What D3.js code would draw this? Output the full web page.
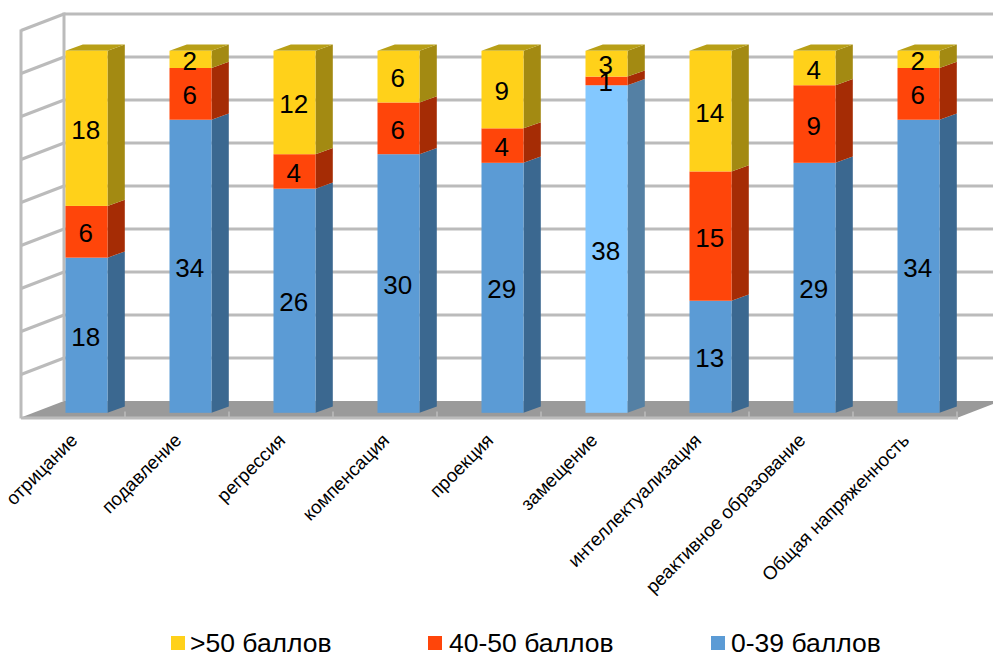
<!DOCTYPE html>
<html lang="ru">
<head>
<meta charset="utf-8">
<script src="https://cdn.jsdelivr.net/npm/d3@7"></script>
<style>
  html, body { margin: 0; padding: 0; background: #fff; overflow: hidden; }
  svg { display: block; font-family: "Liberation Sans", Arial, sans-serif; }
</style>
</head>
<body>
<svg id="chart" width="993" height="653"></svg>
<script>
const categories = ["отрицание", "подавление", "регрессия", "компенсация", "проекция",
  "замещение", "интеллектуализация", "реактивное образование", "Общая напряженность"];
const seriesNames = ["0-39 баллов", "40-50 баллов", ">50 баллов"];
const lowScores = [18, 34, 26, 30, 29, 38, 13, 29, 34];
const midScores = [6, 6, 4, 6, 4, 1, 15, 9, 6];
const highScores = [18, 2, 12, 6, 9, 3, 14, 4, 2];
const axisTicks = [0, 5, 10, 15, 20, 25, 30, 35, 40, 45];

const palette = {
  "0-39 баллов": { front: "#5B9BD5", side: "#3B6890", top: "#4A7FAF" },
  "40-50 баллов": { front: "#FF450A", side: "#A52C05", top: "#C53608" },
  ">50 баллов": { front: "#FFD11A", side: "#A38A12", top: "#B89F17" }
};
// The "замещение" column has its own lighter blue base segment.
const accentBase = { index: 5, front: "#83C8FF", side: "#5480A4", top: "#6BA3D0" };

const svg = d3.select("#chart");
const rows = categories.map((c, i) => ({
  category: c, index: i,
  "0-39 баллов": lowScores[i], "40-50 баллов": midScores[i], ">50 баллов": highScores[i]
}));
const stacked = d3.stack().keys(seriesNames)(rows);

// Oblique projection of the 3D box: wall depth and bar depth.
const wallDepth = { x: 43, y: -16.5 };
const barDepth = { x: 17.3, y: -6.2 };

const x = d3.scaleBand().domain(categories).range([21, 957]).paddingInner(0).paddingOuter(0);
const barInset = 44.5, barWidth = 42;
const yWall = d3.scaleLinear().domain([0, 45]).range([401, 14]);
const yBar = d3.scaleLinear().domain([0, 45]).range([412.8, 24.9]);

const wallColor = "#BBBBBB";
const walls = svg.append("g").attr("fill", "none").attr("stroke", wallColor).attr("stroke-width", 3);

// Gridlines on the back wall and their continuation on the side wall.
walls.selectAll(".back").data(axisTicks.slice(1)).join("line")
  .attr("x1", 64).attr("x2", 993)
  .attr("y1", d => yWall(d)).attr("y2", d => yWall(d));
walls.selectAll(".side").data(axisTicks.slice(1)).join("line")
  .attr("x1", 64).attr("x2", 64 - wallDepth.x)
  .attr("y1", d => yWall(d)).attr("y2", d => yWall(d) - wallDepth.y);
walls.append("line").attr("x1", 64).attr("x2", 64).attr("y1", yWall(45) - 1.5).attr("y2", yWall(0));
walls.append("line").attr("x1", 21).attr("x2", 21).attr("y1", yWall(45) - wallDepth.y - 1).attr("y2", yWall(0) - wallDepth.y + 1);

// Floor of the box with the tick marks along its front edge.
const floorFront = yWall(0) - wallDepth.y;
svg.append("polygon")
  .attr("points", [[21, floorFront], [64, yWall(0)], [1001, yWall(0)], [958, floorFront]].join(" "))
  .attr("fill", "#9A9A9A");
svg.append("line").attr("x1", 21).attr("x2", 958).attr("y1", floorFront + 0.5).attr("y2", floorFront + 0.5)
  .attr("stroke", wallColor).attr("stroke-width", 3);
svg.append("g").selectAll("line").data(categories).join("line")
  .attr("x1", d => x(d) + x.step()).attr("x2", d => x(d) + x.step())
  .attr("y1", floorFront - 6).attr("y2", floorFront)
  .attr("stroke", wallColor).attr("stroke-width", 1.5);

function faceColor(key, i, face) {
  if (key === seriesNames[0] && i === accentBase.index) return accentBase[face];
  return palette[key][face];
}

// Column segments: side face, top face for the last segment, front face.
const layers = svg.append("g").selectAll("g").data(stacked).join("g");
layers.each(function (layer, li) {
  const g = d3.select(this);
  const key = layer.key;
  layer.forEach((seg, i) => {
    const left = x(categories[i]) + barInset;
    const right = left + barWidth;
    const y0 = yBar(seg[0]), y1 = yBar(seg[1]);
    g.append("polygon")
      .attr("points", [[right, y0], [right + barDepth.x, y0 + barDepth.y], [right + barDepth.x, y1 + barDepth.y], [right, y1]].join(" "))
      .attr("fill", faceColor(key, i, "side"));
    if (li === stacked.length - 1) {
      g.append("polygon")
        .attr("points", [[left, y1], [left + barDepth.x, y1 + barDepth.y], [right + barDepth.x, y1 + barDepth.y], [right, y1]].join(" "))
        .attr("fill", faceColor(key, i, "top"));
    }
    g.append("rect")
      .attr("x", left).attr("y", y1)
      .attr("width", barWidth).attr("height", y0 - y1)
      .attr("fill", faceColor(key, i, "front"));
  });
});

// Value labels centred on the front face of each segment.
const labels = svg.append("g").attr("font-size", 26).attr("fill", "#000").attr("text-anchor", "middle");
stacked.forEach(layer => {
  layer.forEach((seg, i) => {
    labels.append("text")
      .attr("x", x(categories[i]) + barInset + barWidth / 2 - 0.7)
      .attr("y", (yBar(seg[0]) + yBar(seg[1])) / 2 + 10.5)
      .text(seg[1] - seg[0]);
  });
});

// Category names, rotated and ending under each column.
svg.append("g").selectAll("text").data(categories).join("text")
  .attr("transform", d => `translate(${x(d) + 57.5},${441.5}) rotate(-45)`)
  .attr("text-anchor", "end")
  .attr("font-size", 18.7)
  .attr("fill", "#000")
  .text(d => d);

// Legend along the bottom edge.
const legendItems = [
  { key: ">50 баллов", sx: 171, tx: 190 },
  { key: "40-50 баллов", sx: 428, tx: 449 },
  { key: "0-39 баллов", sx: 711, tx: 731 }
];
const legend = svg.append("g").selectAll("g").data(legendItems).join("g");
legend.append("rect").attr("x", d => d.sx).attr("y", 636).attr("width", 14).attr("height", 14)
  .attr("fill", d => palette[d.key].front);
legend.append("text").attr("x", d => d.tx).attr("y", 652).attr("font-size", 26.5).attr("fill", "#000")
  .text(d => d.key);
</script>
</body>
</html>
